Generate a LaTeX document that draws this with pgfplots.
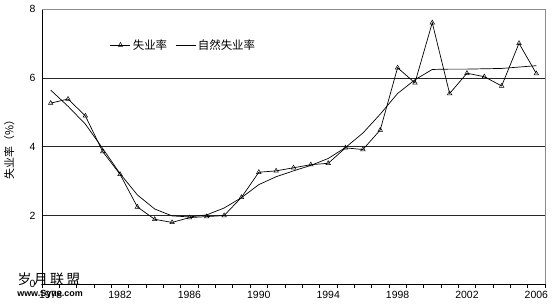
\documentclass[border=0pt]{standalone}
\usepackage{pgfplots}
\pgfplotsset{compat=1.18}
\usepackage{fontspec}
\setmainfont{Liberation Sans}
\newfontfamily\cjk{Noto Sans CJK SC}
\begin{document}
\begin{tikzpicture}[x=1bp,y=1bp]
\path[use as bounding box] (0,0) rectangle (552,307);
\begin{axis}[
  at={(42bp,22.7bp)}, anchor=south west,
  scale only axis, width=503bp, height=275bp,
  xmin=1977.5, xmax=2006.5, ymin=0, ymax=8,
  axis x line*=bottom, axis y line*=left,
  axis line style={black, line width=0.8pt},
  xtick={1978,1982,...,2006},
  minor xtick={1977.5,1978.5,...,2006.5},
  major tick length=0pt,
  every minor tick/.style={black, line width=0.6pt},
  minor tick length=3.5bp,
  xtick align=outside,
  ytick={0,2,4,6,8},
  ytick align=outside,
  ymajorgrids, grid style={black!85, line width=0.7pt},
  xticklabel style={/pgf/number format/1000 sep={}, font=\fontsize{10.5}{12}\selectfont, yshift=-3bp},
  yticklabel style={font=\fontsize{10.5}{12}\selectfont, xshift=-3bp},
  /pgf/number format/assume math mode=true,
  ylabel={\cjk 失业率（\%）},
  ylabel style={font=\fontsize{11}{12}\selectfont, at={(-24bp,0.5)}, anchor=south},
  legend columns=2,
  legend style={draw=none, fill=none, at={(0.135,0.87)}, anchor=west,
    font=\fontsize{11.5}{13}\selectfont, inner sep=0pt,
    /tikz/every even column/.append style={column sep=6bp}},
  legend image code/.code={
    \draw[#1, mark=none] (0bp,0bp) -- (20bp,0bp);
    \draw[#1, only marks] plot coordinates {(10bp,0bp)};
  },
  clip=false,
]
\draw[black!45, line width=0.6pt] (axis cs:1977.5,8) -- (axis cs:2006.5,8) -- (axis cs:2006.5,0);
\addplot[black, line width=0.7pt, mark=triangle, mark size=2.6bp, mark options={solid, fill=white, line width=0.5pt}] coordinates {
(1978,5.27) (1979,5.39) (1980,4.90) (1981,3.86) (1982,3.20) (1983,2.25) (1984,1.89) (1985,1.80)
(1986,1.94) (1987,1.97) (1988,2.00) (1989,2.53) (1990,3.26) (1991,3.30) (1992,3.39) (1993,3.48)
(1994,3.52) (1995,3.97) (1996,3.92) (1997,4.49) (1998,6.30) (1999,5.86) (2000,7.61) (2001,5.55)
(2002,6.14) (2003,6.04) (2004,5.77) (2005,7.01) (2006,6.13)};
\addlegendentry{\cjk 失业率}
\addplot[black, line width=0.7pt, mark=none] coordinates {
(1978,5.65) (1979,5.18) (1980,4.66) (1981,3.95) (1982,3.22) (1983,2.60) (1984,2.19) (1985,1.99)
(1986,1.96) (1987,2.02) (1988,2.22) (1989,2.52) (1990,2.90) (1991,3.13) (1992,3.30) (1993,3.46)
(1994,3.66) (1995,3.98) (1996,4.40) (1997,4.95) (1998,5.55) (1999,5.95) (2000,6.25) (2001,6.26)
(2002,6.26) (2003,6.27) (2004,6.28) (2005,6.32) (2006,6.36)};
\addlegendentry{\cjk 自然失业率}
\end{axis}
\node[anchor=center, font=\cjk\fontsize{14}{14}\selectfont] at (49bp,28bp) {岁\,月\,联\,盟};
\node[anchor=center, font=\fontsize{9}{9}\selectfont\bfseries] at (50bp,13bp) {www.Syue.com};
\end{tikzpicture}
\end{document}
